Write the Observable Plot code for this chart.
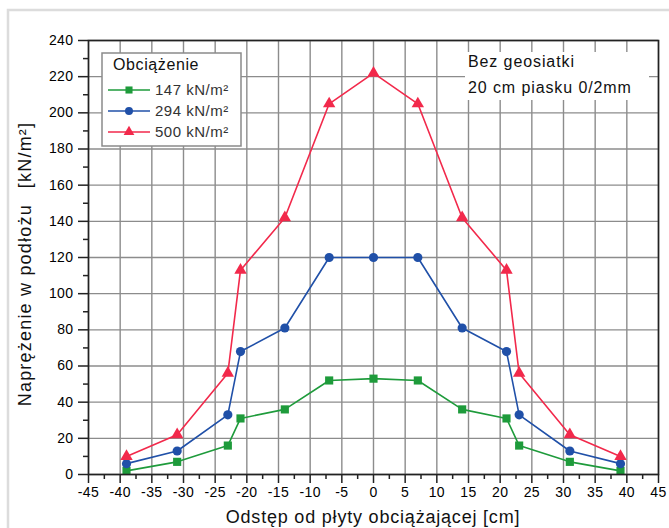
<!DOCTYPE html>
<html>
<head>
<meta charset="utf-8">
<script src="https://cdn.jsdelivr.net/npm/d3@7"></script>
<script src="https://cdn.jsdelivr.net/npm/@observablehq/plot@0.6"></script>
<style>
  html, body { margin: 0; padding: 0; background: #fff; }
  #chart { width: 669px; height: 528px; overflow: hidden; }
</style>
</head>
<body>
<div id="chart"></div>
<script>
// ---- data ----
const positions = [-39, -31, -23, -21, -14, -7, 0, 7, 14, 21, 23, 31, 39];
const load147 = [2, 7, 16, 31, 36, 52, 53, 52, 36, 31, 16, 7, 2];
const load294 = [6, 13, 33, 68, 81, 120, 120, 120, 81, 68, 33, 13, 6];
const load500 = [10, 22, 56, 113, 142, 205, 222, 205, 142, 113, 56, 22, 10];
const seriesNames = ["147 kN/m²", "294 kN/m²", "500 kN/m²"];
const seriesColors = ["#1e9b3b", "#2050a8", "#f2294b"];
const seriesSymbols = ["square", "circle", "triangle"];
const xTickLabels = [-45, -40, -35, -30, -25, -20, -15, -10, -5, 0, 5, 10, 15, 20, 25, 30, 35, 40, 45];
const xMinorTicks = [-42.5, -37.5, -32.5, -27.5, -22.5, -17.5, -12.5, -7.5, -2.5, 2.5, 7.5, 12.5, 17.5, 22.5, 27.5, 32.5, 37.5, 42.5];
const yTickLabels = [0, 20, 40, 60, 80, 100, 120, 140, 160, 180, 200, 220, 240];
const yMinorTicks = [10, 30, 50, 70, 90, 110, 130, 150, 170, 190, 210, 230];
const xTitle = "Odstęp od płyty obciążającej [cm]";
const yTitleA = "Naprężenie w podłożu";
const yTitleB = "[kN/m²]";
const legendTitle = "Obciążenie";
const noteLines = ["Bez geosiatki", "20 cm piasku 0/2mm"];

const seriesValues = [load147, load294, load500];
const rows = [];
seriesValues.forEach((vals, si) => {
  vals.forEach((v, i) => rows.push({series: seriesNames[si], x: positions[i], y: v}));
});

const FONT = "'Liberation Sans', Arial, sans-serif";

const chart = Plot.plot({
  width: 669,
  height: 528,
  marginLeft: 88,
  marginRight: 11,
  marginTop: 40,
  marginBottom: 54,
  style: {fontFamily: FONT, color: "#111", background: "#fff", overflow: "visible"},
  x: {domain: [-45, 45]},
  y: {domain: [0, 240]},
  color: {domain: seriesNames, range: seriesColors},
  symbol: {domain: seriesNames, range: seriesSymbols},
  marks: [
    Plot.gridX(xTickLabels, {stroke: "#8c8c8c", strokeOpacity: 1, strokeWidth: 1.4}),
    Plot.gridY(yTickLabels, {stroke: "#8c8c8c", strokeOpacity: 1, strokeWidth: 1.4}),
    Plot.axisX(xTickLabels, {tickSize: 9, tickPadding: 4, fontSize: 14, label: null, tickFormat: d => String(d), stroke: "#222", strokeWidth: 1.5, fill: "#000"}),
    Plot.axisX(xMinorTicks, {tickSize: 5, tickFormat: () => "", label: null, stroke: "#222", strokeWidth: 1.5}),
    Plot.axisY(yTickLabels, {tickSize: 10, tickPadding: 5, fontSize: 14, label: null, tickFormat: d => String(d), stroke: "#222", strokeWidth: 1.5, fill: "#000"}),
    Plot.axisY(yMinorTicks, {tickSize: 5, tickFormat: () => "", label: null, stroke: "#222", strokeWidth: 1.5}),
    Plot.line(rows, {x: "x", y: "y", z: "series", stroke: "series", strokeWidth: 1.6}),
    Plot.dot(rows, {x: "x", y: "y", symbol: "series", fill: "series", stroke: "none", r: 4.6}),
    Plot.frame({stroke: "#222", strokeWidth: 1.6})
  ]
});

document.getElementById("chart").appendChild(chart);

const svg = d3.select(chart);
svg.selectAll("text").style("letter-spacing", "0.4px");

// outer light frame
svg.insert("rect", ":first-child")
  .attr("x", 8).attr("y", 10).attr("width", 720).attr("height", 600)
  .attr("fill", "none").attr("stroke", "#dcdcdc").attr("stroke-width", 2.5);

// axis titles
svg.append("text")
  .attr("x", 373).attr("y", 523)
  .attr("text-anchor", "middle")
  .attr("font-family", FONT).attr("font-size", 18).style("letter-spacing", "0.8px")
  .attr("fill", "#111")
  .text(xTitle);

const yt = svg.append("text")
  .attr("transform", "translate(31,264) rotate(-90)")
  .attr("text-anchor", "middle")
  .attr("font-family", FONT).attr("font-size", 18).style("letter-spacing", "1.2px")
  .attr("fill", "#111");
yt.append("tspan").text(yTitleA);
yt.append("tspan").attr("dx", 16).text(yTitleB);

// annotation box
const note = svg.append("g");
note.append("rect").attr("x", 465).attr("y", 52).attr("width", 184).attr("height", 48).attr("fill", "#fff");
noteLines.forEach((t, i) => {
  note.append("text")
    .attr("x", 468).attr("y", 67 + i * 26)
    .attr("text-anchor", "start")
    .attr("font-family", FONT).attr("font-size", 16).style("letter-spacing", "0.9px")
    .attr("fill", "#111").text(t);
});

// legend
const lg = svg.append("g");
lg.append("rect").attr("x", 102).attr("y", 53).attr("width", 139).attr("height", 93)
  .attr("fill", "#fff").attr("stroke", "#8a8a8a").attr("stroke-width", 1.5);
lg.append("text").attr("x", 113).attr("y", 70)
  .attr("text-anchor", "start")
  .attr("font-family", FONT).attr("font-size", 16).style("letter-spacing", "0.6px")
  .attr("fill", "#111").text(legendTitle);
const symMap = {square: d3.symbolSquare, circle: d3.symbolCircle, triangle: d3.symbolTriangle};
seriesNames.forEach((name, i) => {
  const cy = 90 + i * 21;
  lg.append("line").attr("x1", 108).attr("x2", 150).attr("y1", cy).attr("y2", cy)
    .attr("stroke", seriesColors[i]).attr("stroke-width", 1.6);
  lg.append("path")
    .attr("d", d3.symbol(symMap[seriesSymbols[i]], 50)())
    .attr("transform", `translate(129,${cy})`)
    .attr("fill", seriesColors[i]);
  lg.append("text").attr("x", 155).attr("y", cy + 5)
    .attr("text-anchor", "start")
    .attr("font-family", FONT).attr("font-size", 15).style("letter-spacing", "0.5px")
    .attr("fill", "#333").text(name);
});
</script>
</body>
</html>
